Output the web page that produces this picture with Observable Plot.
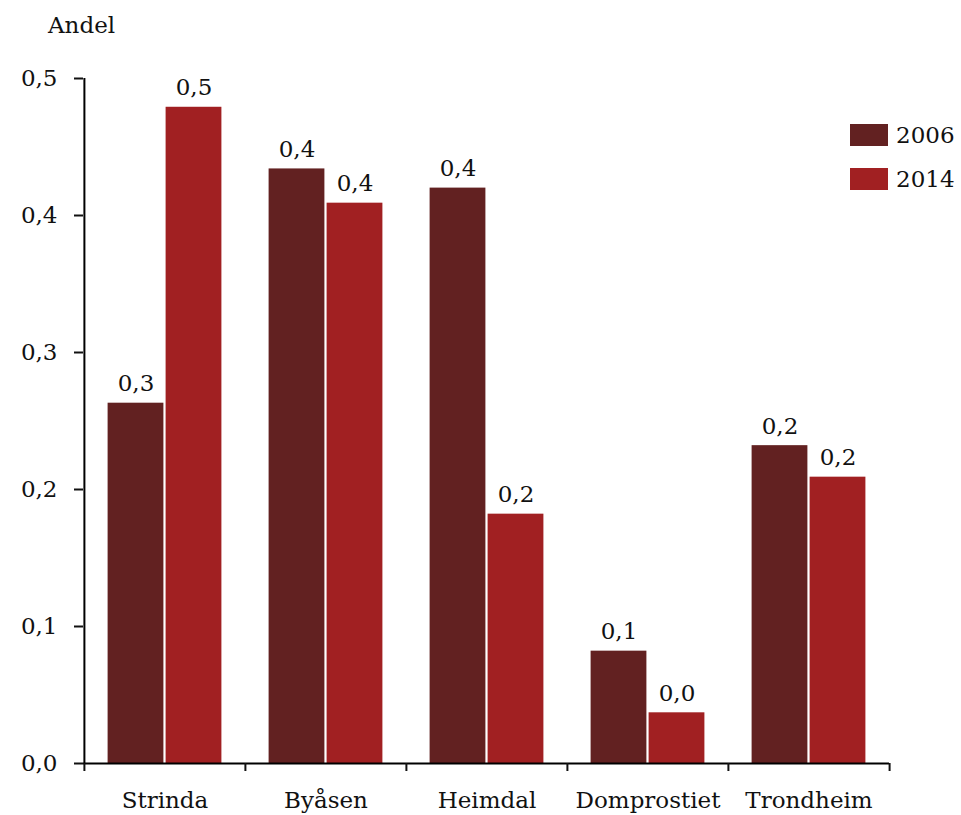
<!DOCTYPE html>
<html>
<head>
<meta charset="utf-8">
<script src="https://cdn.jsdelivr.net/npm/d3@7"></script>
<script src="https://cdn.jsdelivr.net/npm/@observablehq/plot@0.6"></script>
<style>
  body { margin: 0; background: #fff; }
  #wrap { position: relative; width: 961px; height: 815px; overflow: hidden; font-family: "DejaVu Serif", serif; }
  #ylab { position: absolute; left: 48px; top: 12px; font-size: 23px; color: #111; }
  #legend { position: absolute; left: 850px; top: 124px; font-size: 23px; color: #111; }
  .item { display: flex; align-items: center; height: 22px; margin-bottom: 22px; }
  .sw { width: 38px; height: 22px; margin-right: 8px; }
</style>
</head>
<body>
<div id="wrap">
  <div id="ylab">Andel</div>
  <div id="legend"></div>
</div>
<script>
const locations = ["Strinda", "Byåsen", "Heimdal", "Domprostiet", "Trondheim"];
const years = ["2006", "2014"];
const values2006 = [0.263, 0.434, 0.420, 0.082, 0.232];
const values2014 = [0.479, 0.409, 0.182, 0.037, 0.209];
const colors = ["#622121", "#a12022"];
const yTicks = [0, 0.1, 0.2, 0.3, 0.4, 0.5];

const data = [];
locations.forEach((loc, i) => {
  data.push({loc, year: years[0], value: values2006[i]});
  data.push({loc, year: years[1], value: values2014[i]});
});

const width = 961, height = 815;
const marginLeft = 83, marginRight = 72, marginTop = 78, marginBottom = 52;
const band = (width - marginLeft - marginRight) / locations.length;
const barW = 56, gap = 2;
const in2006L = band / 2 - gap / 2 - barW, in2006R = band / 2 + gap / 2;
const in2014L = band / 2 + gap / 2, in2014R = band / 2 - gap / 2 - barW;
const off = gap / 2 + barW / 2;
const fmt = v => d3.format(".1f")(v).replace(".", ",");
const font = "DejaVu Serif";
const fs = 23;

const d06 = data.filter(d => d.year === years[0]);
const d14 = data.filter(d => d.year === years[1]);

const chart = Plot.plot({
  width, height, marginLeft, marginRight, marginTop, marginBottom,
  style: {fontFamily: font, fontSize: fs + "px", color: "#111", background: "transparent"},
  x: {domain: locations, padding: 0, label: null},
  y: {domain: [0, 0.5], label: null},
  marks: [
    Plot.barY(d06, {x: "loc", y: "value", fill: colors[0], insetLeft: in2006L, insetRight: in2006R}),
    Plot.barY(d14, {x: "loc", y: "value", fill: colors[1], insetLeft: in2014L, insetRight: in2014R}),
    Plot.text(d06, {x: "loc", y: "value", text: d => fmt(d.value), dx: -off, dy: -12, lineAnchor: "bottom", fill: "#111", fontSize: fs}),
    Plot.text(d14, {x: "loc", y: "value", text: d => fmt(d.value), dx: off, dy: -12, lineAnchor: "bottom", fill: "#111", fontSize: fs}),
    Plot.ruleY([0], {stroke: "#000", strokeWidth: 2}),
    Plot.ruleX(locations.slice(0, 1), {x: d => d, y1: 0, y2: 0.5, dx: -band / 2, stroke: "#000", strokeWidth: 2}),
    Plot.axisY(yTicks, {tickSize: 9, tickPadding: 17, tickFormat: fmt, strokeWidth: 2, fontSize: fs, label: null}),
    Plot.axisX({tickSize: 0, tickPadding: 28, fontSize: fs, label: null}),
    Plot.axisX(locations, {tickSize: 8, tickFormat: () => "", dx: -band / 2, strokeWidth: 2, label: null}),
    Plot.axisX(locations.slice(-1), {tickSize: 8, tickFormat: () => "", dx: band / 2, strokeWidth: 2, label: null})
  ]
});
document.getElementById("wrap").prepend(chart);
chart.style.position = "absolute";
chart.style.left = "0";
chart.style.top = "0";

const legend = document.getElementById("legend");
years.forEach((y, i) => {
  const it = document.createElement("div");
  it.className = "item";
  it.innerHTML = `<div class="sw" style="background:${colors[i]}"></div><span>${y}</span>`;
  legend.appendChild(it);
});
</script>
</body>
</html>
